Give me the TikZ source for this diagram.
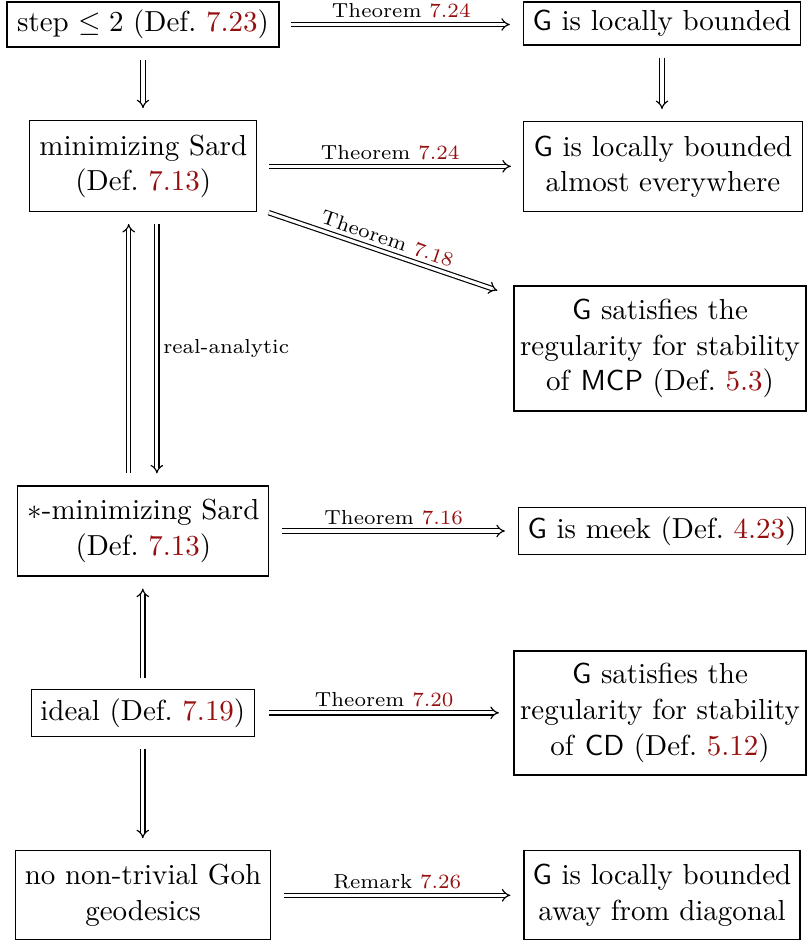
\documentclass[tikz,border=0pt]{standalone}
\usetikzlibrary{arrows.meta}
\definecolor{refred}{RGB}{150,15,15}
\newcommand{\rf}[1]{\textcolor{refred}{#1}}
\tikzset{
  box/.style={draw, line width=0.4pt, align=center, inner sep=1pt, font=\fontsize{10}{12.3}\selectfont},
  sz/.style 2 args={minimum width=#1*0.345pt, minimum height=#2*0.345pt},
  imp/.style={double, double distance=1.1pt, line width=0.4pt, -{Implies[length=3.3pt, width=5.2pt]}},
  sh/.style 2 args={shorten <=#1*0.345pt, shorten >=#2*0.345pt},
  lab/.style={font=\scriptsize, inner sep=2pt}}
\begin{document}
\begin{tikzpicture}[x=0.345pt,y=-0.345pt]
\useasboundingbox (0,0) rectangle (807,945);

\node[box, sz={272}{45}] (step) at (143,24.5) {step $\leq 2$ (Def.~\rf{7.23})};
\node[box, sz={277}{43}] (lb) at (662,23.5) {\textsf{G} is locally bounded};
\node[box, sz={227}{91}] (min) at (143.3,166.3) {minimizing Sard\\(Def.~\rf{7.13})};
\node[box, sz={279}{90}] (ae) at (663,166.7) {\textsf{G} is locally bounded\\almost everywhere};
\node[box, sz={292}{125}] (mcp) at (660,348.5) {\textsf{G} satisfies the\\regularity for stability\\of \textsf{MCP} (Def.~\rf{5.3})};
\node[box, sz={251}{90}] (star) at (143.4,531) {$*$-minimizing Sard\\(Def.~\rf{7.13})};
\node[box, sz={287}{47}] (meek) at (662,531) {\textsf{G} is meek (Def.~\rf{4.23})};
\node[box, sz={223}{47}] (ideal) at (142.8,712.8) {ideal (Def.~\rf{7.19})};
\node[box, sz={292}{124}] (cd) at (660,713) {\textsf{G} satisfies the\\regularity for stability\\of \textsf{CD} (Def.~\rf{5.12})};
\node[box, sz={255}{89}] (goh) at (143,895.3) {no non-trivial Goh\\geodesics};
\node[box, sz={276}{89}] (away) at (662,895.3) {\textsf{G} is locally bounded\\away from diagonal};

\draw[imp, sh={11}{13}] (step.east) -- (step.east -| lb.west)
  node[lab, midway, above] {Theorem \rf{7.24}};
\draw[imp, sh={12}{12}] (min.east) -- (min.east -| ae.west)
  node[lab, midway, above] {Theorem \rf{7.24}};
\draw[imp] ([shift={(11.3,0.3)}]min.south east) -- ([shift={(-16,5)}]mcp.north west)
  node[lab, midway, above, sloped] {Theorem \rf{7.18}};
\draw[imp, sh={12.5}{12}] (step.south) -- (step.south |- min.north);
\draw[imp, sh={12}{12}] (lb.south) -- (lb.south |- ae.north);
\draw[imp, sh={12}{11.5}] ([shift={(-14.7,0)}]star.north) -- ([shift={(-14.7,0)}]star.north |- min.south);
\draw[imp, sh={11.5}{12}] ([shift={(13.6,0)}]min.south) -- ([shift={(13.6,0)}]min.south |- star.north)
  node[lab, midway, right] {real-analytic};
\draw[imp, sh={13}{13}] (star.east) -- (star.east -| meek.west)
  node[lab, midway, above] {Theorem \rf{7.16}};
\draw[imp, sh={11}{12}] (ideal.north) -- (ideal.north |- star.south);
\draw[imp, sh={14.5}{14.5}] (ideal.east) -- (ideal.east -| cd.west)
  node[lab, midway, above] {Theorem \rf{7.20}};
\draw[imp, sh={12}{12}] (ideal.south) -- (ideal.south |- goh.north);
\draw[imp, sh={13}{13}] (goh.east) -- (goh.east -| away.west)
  node[lab, midway, above] {Remark \rf{7.26}};
\end{tikzpicture}
\end{document}
